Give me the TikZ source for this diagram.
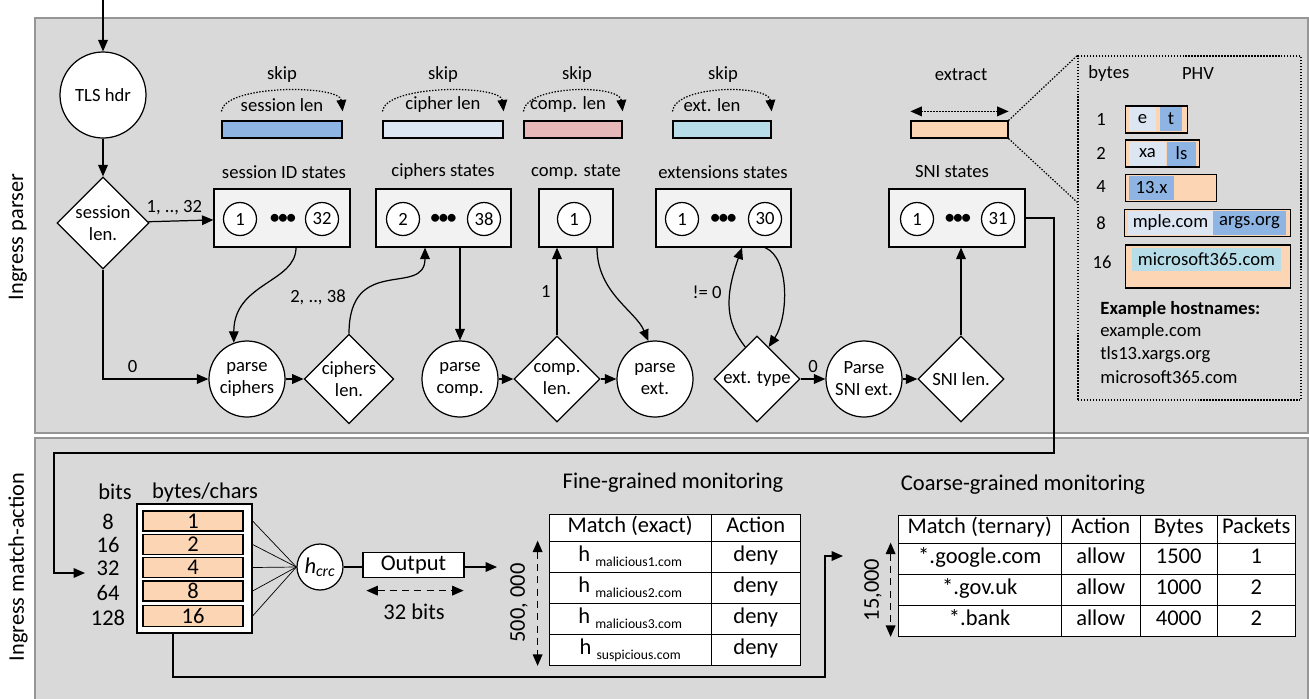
\documentclass[tikz,border=0pt]{standalone}
\usepackage{fontspec}
\setmainfont{Carlito}
\usepackage{tikz}
\usetikzlibrary{arrows.meta, shapes.geometric, positioning, calc, matrix}
\definecolor{panelgray}{RGB}{217,217,217}
\definecolor{panelline}{RGB}{150,150,150}
\definecolor{boxgray}{RGB}{242,242,242}
\definecolor{sessblue}{RGB}{142,180,227}
\definecolor{ciphblue}{RGB}{220,230,242}
\definecolor{comprose}{RGB}{230,185,184}
\definecolor{extcyan}{RGB}{183,222,232}
\definecolor{peach}{RGB}{252,213,181}
\newcommand{\topfont}{\fontsize{10.6}{12.5}\selectfont}
\newcommand{\botfont}{\fontsize{12.8}{15}\selectfont}
\newcommand{\hsub}[1]{\raisebox{-0.5ex}{\fontsize{7.8}{9}\selectfont #1}}
\newcommand{\dotsmark}{\textbf{\textbullet\kern-0.6pt\textbullet\kern-0.6pt\textbullet}}

\begin{document}
\begin{tikzpicture}[font=\topfont, line width=0.7pt, >={Triangle[length=6.5pt,width=5.5pt]},
    state/.style={circle, draw, fill=white, minimum size=1.52cm, inner sep=0pt, align=center},
    choice/.style={diamond, draw, fill=white, minimum width=1.72cm, minimum height=1.72cm, inner sep=0pt, align=center},
    group/.style={draw, fill=boxgray, minimum height=1.16cm},
    sub/.style={circle, draw, fill=white, minimum size=0.66cm, inner sep=0pt},
    field/.style={draw, minimum height=0.34cm, inner sep=0pt},
    fine dots/.style={dash pattern=on 0.8pt off 0.9pt},
    phvrow/.style={draw, fill=peach, minimum height=0.54cm, inner sep=0pt, anchor=west},
    phvpart/.style={minimum height=0.48cm, inner sep=0pt},
    table/.style={matrix of nodes, anchor=north west, inner sep=0pt,
        column sep=-\pgflinewidth, row sep=-\pgflinewidth,
        nodes={draw, fill=white, inner sep=0pt, minimum height=0.62cm, text height=1.6ex, text depth=0.5ex}}]
    \useasboundingbox (0,0) rectangle (26.18,-13.96);

    % panels
    \filldraw[fill=panelgray, draw=panelline] (0.70,-0.36) rectangle (26.16,-8.66);
    \filldraw[fill=panelgray, draw=panelline] (0.70,-8.76) rectangle (26.16,-14.20);
    \node[rotate=90, font=\fontsize{12.7}{15}\selectfont] (parserlbl) at (0.36,-4.74) {Ingress parser};
    \node[rotate=90, font=\fontsize{12.7}{15}\selectfont] (malbl) at (0.36,-11.34) {Ingress match-action};

    % parser: entry
    \coordinate (entry) at (2.06,0);
    \node[state, minimum size=1.72cm] (tls) at (2.06,-1.90) {TLS hdr};
    \node[choice, minimum width=1.84cm, minimum height=1.84cm] (seslen) at (2.06,-4.46) {session\\len.};
    \draw[->] (entry) -- (tls);
    \draw[->] (tls) -- (seslen);

    % skipped fields
    \node[field, fill=sessblue, minimum width=2.40cm] (sbar) at (5.64,-2.59) {};
    \node (sskip) at (5.64,-1.50) {skip};
    \node (slen) at (5.64,-2.10) {session len};
    \draw[fine dots, ->] ([yshift=0.18cm]sbar.north west) .. controls +(0.06,0.54) and +(-0.06,0.54) .. ([yshift=0.18cm]sbar.north east);

    \node[field, fill=ciphblue, minimum width=2.40cm] (cbar) at (8.86,-2.59) {};
    \node (cskip) at (8.86,-1.50) {skip};
    \node (clen) at (8.86,-2.10) {cipher len};
    \draw[fine dots, ->] ([yshift=0.18cm]cbar.north west) .. controls +(0.06,0.54) and +(-0.06,0.54) .. ([yshift=0.18cm]cbar.north east);

    \node[field, fill=comprose, minimum width=1.96cm] (mbar) at (11.46,-2.59) {};
    \node (mskip) at (11.54,-1.50) {skip};
    \node (mlen) at (11.36,-2.10) {comp. len};
    \draw[fine dots, ->] ([yshift=0.18cm]mbar.north west) .. controls +(0.06,0.54) and +(-0.06,0.54) .. ([yshift=0.18cm]mbar.north east);

    \node[field, fill=extcyan, minimum width=1.96cm] (ebar) at (14.44,-2.59) {};
    \node (eskip) at (14.46,-1.50) {skip};
    \node (elen) at (14.24,-2.10) {ext. len};
    \draw[fine dots, ->] ([yshift=0.18cm]ebar.north west) .. controls +(0.06,0.54) and +(-0.06,0.54) .. ([yshift=0.18cm]ebar.north east);

    \node[field, fill=peach, minimum width=1.94cm] (xbar) at (19.19,-2.59) {};
    \node (xlbl) at (19.22,-1.50) {extract};
    \draw[fine dots, <->] ([yshift=0.18cm]xbar.north west) -- ([yshift=0.18cm]xbar.north east);

    % state groups
    \node (sesstitle) at (5.68,-3.44) {session ID states};
    \node[group, minimum width=2.72cm] (sessbox) at (5.64,-4.36) {};
    \node[sub] (s1) at (4.80,-4.38) {1};
    \node (sdots) at (5.66,-4.38) {\dotsmark};
    \node[sub] (s32) at (6.44,-4.38) {32};

    \node (ciphtitle) at (8.86,-3.44) {ciphers states};
    \node[group, minimum width=2.70cm] (ciphbox) at (8.87,-4.36) {};
    \node[sub] (c2) at (8.06,-4.38) {2};
    \node (cdots) at (8.87,-4.38) {\dotsmark};
    \node[sub] (c38) at (9.68,-4.38) {38};

    \node (comptitle) at (11.52,-3.44) {comp. state};
    \node[group, minimum width=1.48cm] (compbox) at (11.52,-4.36) {};
    \node[sub] (m1) at (11.48,-4.38) {1};

    \node (exttitle) at (14.46,-3.44) {extensions states};
    \node[group, minimum width=2.70cm] (extbox) at (14.47,-4.36) {};
    \node[sub] (e1) at (13.64,-4.38) {1};
    \node (edots) at (14.47,-4.38) {\dotsmark};
    \node[sub] (e30) at (15.30,-4.38) {30};

    \node (snititle) at (19.04,-3.44) {SNI states};
    \node[group, minimum width=2.72cm] (snibox) at (19.14,-4.36) {};
    \node[sub] (n1) at (18.34,-4.38) {1};
    \node (ndots) at (19.16,-4.38) {\dotsmark};
    \node[sub] (n31) at (19.96,-4.38) {31};

    % parse states
    \node[state] (pciph) at (4.94,-7.58) {parse\\ciphers};
    \node[choice] (ciphlen) at (6.98,-7.58) {ciphers\\len.};
    \node[state] (pcomp) at (9.20,-7.58) {parse\\comp.};
    \node[choice] (complen) at (11.14,-7.58) {comp.\\len.};
    \node[state] (pext) at (13.10,-7.58) {parse\\ext.};
    \node[choice] (exttype) at (15.14,-7.58) {ext. type};
    \node[state] (psni) at (17.28,-7.58) {Parse\\SNI ext.};
    \node[choice] (snilen) at (19.22,-7.58) {SNI len.};

    % transitions
    \draw[->] (seslen) -- node[pos=0.4, above] {1, .., 32} (sessbox);
    \draw[->] (seslen) |- node[pos=0.64, above] {0} (pciph);
    \draw[->] ([xshift=0.28cm]sessbox.south) .. controls +(0,-0.7) and +(0,1.2) .. (pciph.110);
    \draw[->] (pciph) -- (ciphlen);
    \draw[->] (ciphlen.north) .. controls +(0,1.6) and +(0,-1.0) .. ([xshift=-0.37cm]ciphbox.south);
    \node (ciphcnt) at (6.36,-5.94) {2, .., 38};
    \draw[->] (pcomp.north |- ciphbox.south) -- (pcomp);
    \draw[->] (pcomp) -- (complen);
    \draw[->] (complen) -- node[left] {1} (complen.north |- compbox.south);
    \draw[->] ([xshift=0.42cm]compbox.south) .. controls +(0,-0.9) and +(-0.25,0.6) .. (pext.100);
    \draw[->] (complen) -- (pext);
    \draw[->] (exttype.110) .. controls +(-0.4,0.5) and +(-0.35,-1.0) .. ([xshift=0.37cm]extbox.south);
    \node (extcnt) at (14.14,-5.84) {!= 0};
    \draw[->] ([xshift=0.83cm]extbox.south) .. controls +(0.5,-0.2) and +(0.4,0.6) .. (exttype.70);
    \draw[->] (exttype) -- node[above] {0} (psni);
    \draw[->] (psni) -- (snilen);
    \draw[->] (snilen) -- (snilen.north |- snibox.south);

    % PHV
    \node[draw, fine dots, minimum width=4.46cm, minimum height=6.88cm] (phv) at (23.79,-4.56) {};
    \draw[fine dots] (xbar.north east) -- (phv.north west);
    \draw[fine dots] (xbar.south east) -- ([yshift=-2.94cm]phv.north west);
    \node[anchor=west] (phvbytes) at (21.64,-1.48) {bytes};
    \node (phvtitle) at (23.96,-1.48) {PHV};

    \node (p1) at (22.02,-2.38) {1};
    \node[phvrow, minimum width=1.24cm] (h1) at (22.50,-2.39) {};
    \node[phvpart, fill=ciphblue, minimum width=0.54cm] (h1a) at (22.85,-2.38) {e};
    \node[phvpart, fill=sessblue, minimum width=0.44cm] (h1b) at (23.42,-2.38) {t};

    \node (p2) at (22.02,-3.06) {2};
    \node[phvrow, minimum width=1.48cm] (h2) at (22.50,-3.07) {};
    \node[phvpart, fill=ciphblue, minimum width=0.74cm] (h2a) at (22.95,-3.07) {xa};
    \node[phvpart, fill=sessblue, minimum width=0.58cm] (h2b) at (23.63,-3.07) {ls};

    \node (p4) at (22.02,-3.74) {4};
    \node[phvrow, minimum width=1.82cm] (h4) at (22.50,-3.76) {};
    \node[phvpart, fill=sessblue, minimum width=0.90cm] (h4a) at (23.03,-3.76) {13.x};

    \node (p8) at (22.02,-4.46) {8};
    \node[phvrow, minimum width=3.32cm] (h8) at (22.48,-4.46) {};
    \node[phvpart, fill=ciphblue, minimum width=1.70cm] (h8a) at (23.41,-4.46) {mple.com};
    \node[phvpart, fill=sessblue, minimum width=1.46cm] (h8b) at (24.99,-4.46) {args.org};

    \node (p16) at (22.04,-5.24) {16};
    \node[phvrow, minimum width=3.30cm, minimum height=0.86cm] (h16) at (22.50,-5.33) {};
    \node[phvpart, fill=extcyan, minimum width=2.98cm, minimum height=0.46cm] (h16a) at (24.13,-5.19) {microsoft365.com};

    \node[anchor=west, font=\topfont\bfseries] (hosthead) at (21.88,-6.18) {Example hostnames:};
    \node[anchor=west] (host1) at (21.88,-6.64) {example.com};
    \node[anchor=west] (host2) at (21.88,-7.10) {tls13.xargs.org};
    \node[anchor=west] (host3) at (21.88,-7.54) {microsoft365.com};

    % into match-action
    \coordinate (hostin) at (1.70,-11.46);
    \draw[->] (snibox.east) -| (21.08,-9.06) -- (1.08,-9.06) |- (hostin);

    % match-action
    \begin{scope}[font=\botfont]
        \node (bitshead) at (2.30,-9.84) {bits};
        \node (byteshead) at (4.10,-9.84) {bytes/chars};
        \node[draw, fill=white, minimum width=2.30cm, minimum height=2.58cm] (holder) at (3.89,-11.37) {};
        \node[draw, fill=peach, minimum width=2.00cm, minimum height=0.40cm, inner sep=0pt] (r1) at (3.86,-10.42) {1};
        \node[draw, fill=peach, minimum width=2.00cm, minimum height=0.40cm, inner sep=0pt] (r2) at (3.86,-10.89) {2};
        \node[draw, fill=peach, minimum width=2.00cm, minimum height=0.40cm, inner sep=0pt] (r4) at (3.86,-11.35) {4};
        \node[draw, fill=peach, minimum width=2.00cm, minimum height=0.40cm, inner sep=0pt] (r8) at (3.86,-11.82) {8};
        \node[draw, fill=peach, minimum width=2.00cm, minimum height=0.42cm, inner sep=0pt] (r16) at (3.86,-12.32) {16};
        \node (b8) at (2.16,-10.44) {8};
        \node (b16) at (2.16,-10.90) {16};
        \node (b32) at (2.16,-11.36) {32};
        \node (b64) at (2.16,-11.86) {64};
        \node (b128) at (2.16,-12.36) {128};

        \node[circle, draw, fill=white, minimum size=0.92cm, inner sep=0pt] (hcrc) at (6.40,-11.34) {\textit{h}\textsubscript{\textit{crc}}};
        \draw[line width=0.4pt] (holder.east |- r1) -- (hcrc.west);
        \draw[line width=0.4pt] (holder.east |- r2) -- (hcrc.west);
        \draw[line width=0.4pt] (holder.east |- r4) -- (hcrc.west);
        \draw[line width=0.4pt] (holder.east |- r8) -- (hcrc.west);
        \draw[line width=0.4pt] (holder.east |- r16) -- (hcrc.west);

        \node[draw, fill=white, minimum width=2.02cm, minimum height=0.50cm, inner sep=0pt] (outbox) at (8.27,-11.30) {Output};
        \draw (hcrc.east) -- (hcrc.east -| outbox.west);
        \coordinate (hashout) at (9.94,-11.34);
        \draw[->] (outbox.east |- hashout) -- (hashout);
        \draw[<->, dash pattern=on 4pt off 3pt] ([xshift=0.08cm, yshift=-0.25cm]outbox.south west) -- ([xshift=-0.02cm, yshift=-0.25cm]outbox.south east);
        \node (outwidth) at (8.28,-12.24) {32 bits};

        % fine-grained table
        \node (finetitle) at (13.46,-9.66) {Fine-grained monitoring};
        \matrix (fine) [table,
            column 1/.style={nodes={minimum width=3.24cm}},
            column 2/.style={nodes={minimum width=1.78cm}},
            row 1/.style={nodes={minimum height=0.54cm}}] at (10.96,-10.26) {
            Match (exact) & Action \\
            h \hsub{malicious1.com} & deny \\
            h \hsub{malicious2.com} & deny \\
            h \hsub{malicious3.com} & deny \\
            h \hsub{suspicious.com} & deny \\
        };
        \draw[<->, dash pattern=on 4pt off 3pt] ([xshift=-0.22cm]fine-2-1.north west) -- ([xshift=-0.22cm]fine-5-1.south west);
        \node[rotate=90] (finecount) at (10.38,-12.06) {500, 000};

        % coarse-grained table
        \node (coarsetitle) at (20.46,-9.70) {Coarse-grained monitoring};
        \matrix (coarse) [table,
            column 1/.style={nodes={minimum width=3.26cm}},
            column 2/.style={nodes={minimum width=1.58cm}},
            column 3/.style={nodes={minimum width=1.54cm}},
            column 4/.style={nodes={minimum width=1.56cm}},
            row 1/.style={nodes={minimum height=0.56cm}}] at (17.94,-10.28) {
            Match (ternary) & Action & Bytes & Packets \\
            *.google.com & allow & 1500 & 1 \\
            *.gov.uk & allow & 1000 & 2 \\
            *.bank & allow & 4000 & 2 \\
        };
        \draw[<->, dash pattern=on 4pt off 3pt] ([xshift=-0.14cm]coarse-2-1.north west) -- ([xshift=-0.14cm]coarse-4-1.south west);
        \node[rotate=90] (coarsecount) at (17.46,-11.80) {15,000};

        \coordinate (coarsein) at (16.86,-11.12);
        \draw[->] ([xshift=-0.43cm]holder.south) |- (16.50,-13.54) |- (coarsein);
    \end{scope}
\end{tikzpicture}
\end{document}
